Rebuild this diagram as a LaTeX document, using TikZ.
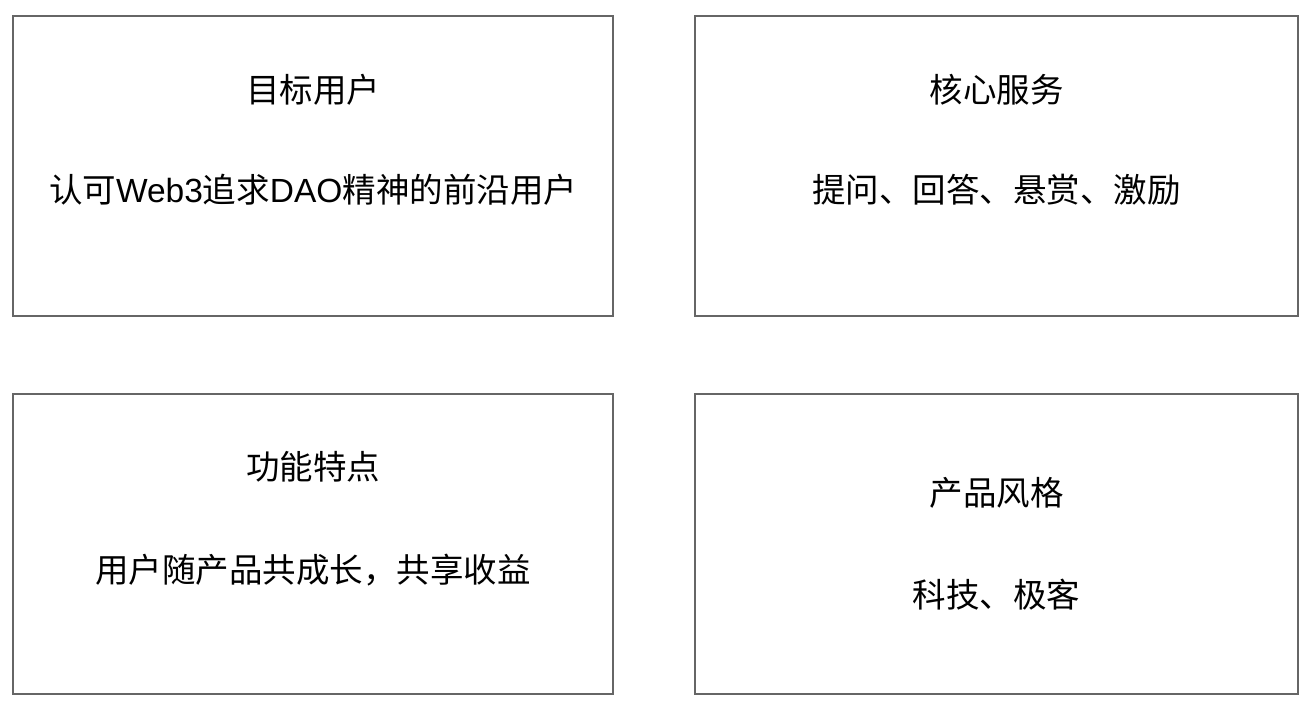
\documentclass[tikz,border=0pt]{standalone}
\usepackage{fontspec}
\setmainfont{Liberation Sans}
\newfontfamily\cjk{Noto Sans CJK SC}
\definecolor{bordergrey}{HTML}{666666}
\tikzset{
  card/.style={draw=bordergrey, line width=1.5pt, fill=white},
  lbl/.style={font=\fontsize{33.5}{38}\selectfont, text=black, inner sep=0pt, anchor=center}
}
\begin{document}
\begin{tikzpicture}[x=1pt,y=-1pt]
\useasboundingbox (0,0) rectangle (1311,711);
\fill[white] (0,0) rectangle (1311,711);
\draw[card] (13,16) rectangle (613,316);
\draw[card] (695,16) rectangle (1298,316);
\draw[card] (13,394) rectangle (613,694);
\draw[card] (695,394) rectangle (1298,694);
\node[lbl] (t1) at (313,90) {\cjk 目标用户};
\node[lbl] (s1) at (313,190) {\cjk 认可\normalfont Web3\cjk 追求\normalfont DAO\cjk 精神的前沿用户};
\node[lbl] (t2) at (996.5,90) {\cjk 核心服务};
\node[lbl] (s2) at (996.5,190) {\cjk 提问、回答、悬赏、激励};
\node[lbl] (t3) at (313,467) {\cjk 功能特点};
\node[lbl] (s3) at (313,570) {\cjk 用户随产品共成长，共享收益};
\node[lbl] (t4) at (996.5,493) {\cjk 产品风格};
\node[lbl] (s4) at (996.5,595) {\cjk 科技、极客};
\end{tikzpicture}
\end{document}
